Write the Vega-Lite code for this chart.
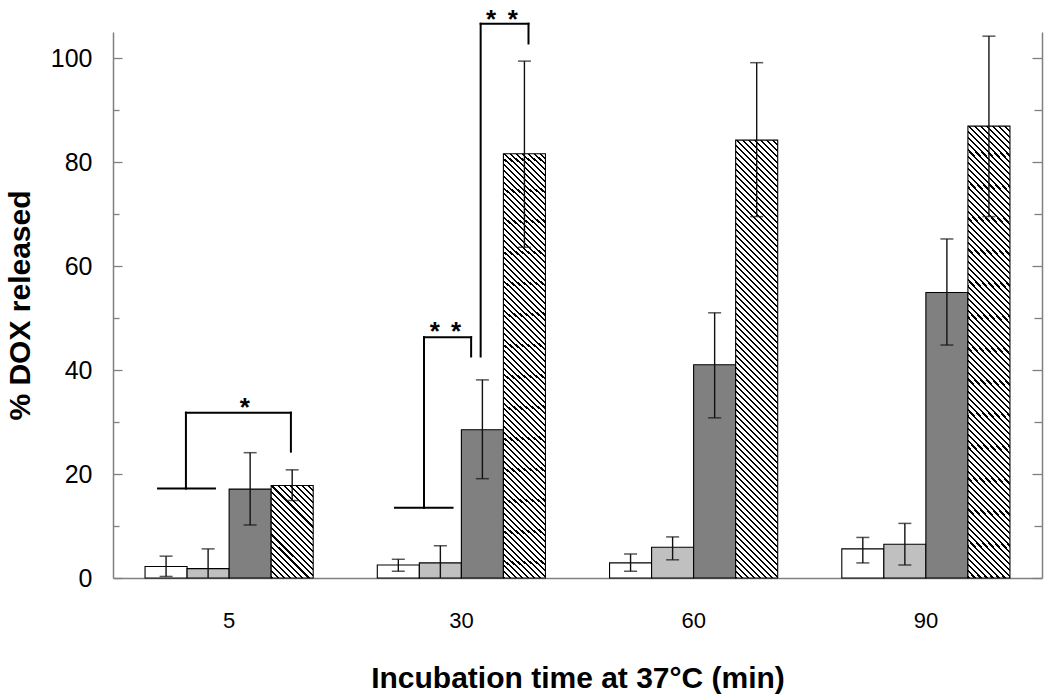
{
"$schema":"https://vega.github.io/schema/vega-lite/v6.json",
"autosize":"none",
"width":929,"height":546,
"padding":{"left":113,"top":32,"right":8,"bottom":121},
"background":"#ffffff",
"config":{"view":{"stroke":null},"font":"Liberation Sans","axis":{"labelFont":"Liberation Sans","titleFont":"Liberation Sans","labelColor":"#000","titleColor":"#000"}},
"datasets":{
"bars":[
{"time":5,"series":"A","mean":2.2,"low":0.3,"high":4.2},
{"time":5,"series":"B","mean":1.8,"low":-2.0,"high":5.6},
{"time":5,"series":"C","mean":17.1,"low":10.2,"high":24.1},
{"time":5,"series":"D","mean":17.8,"low":14.9,"high":20.8},
{"time":30,"series":"A","mean":2.5,"low":1.3,"high":3.6},
{"time":30,"series":"B","mean":2.9,"low":-0.4,"high":6.2},
{"time":30,"series":"C","mean":28.5,"low":19.1,"high":38.1},
{"time":30,"series":"D","mean":81.6,"low":63.6,"high":99.4},
{"time":60,"series":"A","mean":2.9,"low":1.3,"high":4.6},
{"time":60,"series":"B","mean":5.9,"low":3.5,"high":7.9},
{"time":60,"series":"C","mean":41.0,"low":30.8,"high":51.0},
{"time":60,"series":"D","mean":84.2,"low":69.5,"high":99.1},
{"time":90,"series":"A","mean":5.6,"low":2.9,"high":7.8},
{"time":90,"series":"B","mean":6.5,"low":2.5,"high":10.5},
{"time":90,"series":"C","mean":54.9,"low":44.8,"high":65.2},
{"time":90,"series":"D","mean":86.9,"low":69.5,"high":104.2}
],
"brackets":[
{"x0":0.194,"x1":0.439,"y0":17.2,"y1":17.2},
{"x0":0.314,"x1":0.314,"y0":17.2,"y1":31.8},
{"x0":0.314,"x1":0.766,"y0":31.8,"y1":31.8},
{"x0":0.766,"x1":0.766,"y0":31.8,"y1":24.3},
{"x0":1.214,"x1":1.462,"y0":13.5,"y1":13.5},
{"x0":1.339,"x1":1.339,"y0":13.5,"y1":46.3},
{"x0":1.339,"x1":1.542,"y0":46.3,"y1":46.3},
{"x0":1.542,"x1":1.542,"y0":46.3,"y1":42.6},
{"x0":1.583,"x1":1.583,"y0":42.6,"y1":106.6},
{"x0":1.583,"x1":1.789,"y0":106.6,"y1":106.6},
{"x0":1.789,"x1":1.789,"y0":106.6,"y1":102.8}
],
"stars":[
{"x":0.568,"y":31.2},
{"x":1.386,"y":45.8},
{"x":1.477,"y":45.8},
{"x":1.628,"y":105.8},
{"x":1.721,"y":105.8}
]
},
"resolve":{"scale":{"x":"independent"},"axis":{"y":"independent"}},
"layer":[
{
"data":{"name":"bars"},
"encoding":{
"x":{"field":"time","type":"ordinal","scale":{"paddingInner":0.276,"paddingOuter":0.138},"axis":{"ticks":false,"domainColor":"#808080","domainWidth":1.5,"labelFontSize":22,"labelPadding":49,"labelBaseline":"alphabetic","labelAngle":0,"title":"Incubation time at 37°C (min)","titleFontSize":30,"titleFontWeight":"bold","titleY":109,"titleBaseline":"alphabetic"}},
"xOffset":{"field":"series","type":"nominal","scale":{"domain":["A","B","C","D"],"paddingInner":0,"paddingOuter":0}}
},
"layer":[
{
"transform":[{"filter":"datum.series !== 'D'"}],
"mark":{"type":"bar","stroke":"#000","strokeWidth":1.1},
"encoding":{
"y":{"field":"mean","type":"quantitative","scale":{"domain":[0,105],"nice":false},"title":"% DOX released","axis":{"orient":"left","values":[0,10,20,30,40,50,60,70,80,90,100],"labelExpr":"datum.value % 20 === 0 ? datum.label : ''","tickSize":{"condition":{"test":"datum.value % 20 === 0","value":-9},"value":-6},"tickColor":"#808080","tickWidth":1.3,"domainColor":"#808080","domainWidth":1.5,"labelFontSize":25,"labelPadding":30,"grid":false,"title":"% DOX released","titleFontSize":30,"titleFontWeight":"bold","titleAngle":270,"titleX":-84,"titleY":273,"titleBaseline":"alphabetic","titleAlign":"center"}},
"color":{"field":"series","type":"nominal","scale":{"domain":["A","B","C"],"range":["#ffffff","#c0c0c0","#808080"]},"legend":null}
}
},
{
"transform":[{"filter":"datum.series === 'D' && datum.time !== 5"}],
"mark":{"type":"bar","stroke":"#000","strokeWidth":1.1,"fill":{"gradient":"linear","x1":0,"y1":1,"x2":0.1041,"y2":-0.0859,"stops":[
{"offset":0,"color":"#000"},{"offset":0.0044,"color":"#000"},{"offset":0.0044,"color":"#fff"},
{"offset":0.0125,"color":"#fff"},{"offset":0.0125,"color":"#000"},{"offset":0.0169,"color":"#000"},{"offset":0.0169,"color":"#fff"},
{"offset":0.025,"color":"#fff"},{"offset":0.025,"color":"#000"},{"offset":0.0294,"color":"#000"},{"offset":0.0294,"color":"#fff"},
{"offset":0.0375,"color":"#fff"},{"offset":0.0375,"color":"#000"},{"offset":0.0419,"color":"#000"},{"offset":0.0419,"color":"#fff"},
{"offset":0.05,"color":"#fff"},{"offset":0.05,"color":"#000"},{"offset":0.0544,"color":"#000"},{"offset":0.0544,"color":"#fff"},
{"offset":0.0625,"color":"#fff"},{"offset":0.0625,"color":"#000"},{"offset":0.0669,"color":"#000"},{"offset":0.0669,"color":"#fff"},
{"offset":0.075,"color":"#fff"},{"offset":0.075,"color":"#000"},{"offset":0.0794,"color":"#000"},{"offset":0.0794,"color":"#fff"},
{"offset":0.0875,"color":"#fff"},{"offset":0.0875,"color":"#000"},{"offset":0.0919,"color":"#000"},{"offset":0.0919,"color":"#fff"},
{"offset":0.1,"color":"#fff"},{"offset":0.1,"color":"#000"},{"offset":0.1044,"color":"#000"},{"offset":0.1044,"color":"#fff"},
{"offset":0.1125,"color":"#fff"},{"offset":0.1125,"color":"#000"},{"offset":0.1169,"color":"#000"},{"offset":0.1169,"color":"#fff"},
{"offset":0.125,"color":"#fff"},{"offset":0.125,"color":"#000"},{"offset":0.1294,"color":"#000"},{"offset":0.1294,"color":"#fff"},
{"offset":0.1375,"color":"#fff"},{"offset":0.1375,"color":"#000"},{"offset":0.1419,"color":"#000"},{"offset":0.1419,"color":"#fff"},
{"offset":0.15,"color":"#fff"},{"offset":0.15,"color":"#000"},{"offset":0.1544,"color":"#000"},{"offset":0.1544,"color":"#fff"},
{"offset":0.1625,"color":"#fff"},{"offset":0.1625,"color":"#000"},{"offset":0.1669,"color":"#000"},{"offset":0.1669,"color":"#fff"},
{"offset":0.175,"color":"#fff"},{"offset":0.175,"color":"#000"},{"offset":0.1794,"color":"#000"},{"offset":0.1794,"color":"#fff"},
{"offset":0.1875,"color":"#fff"},{"offset":0.1875,"color":"#000"},{"offset":0.1919,"color":"#000"},{"offset":0.1919,"color":"#fff"},
{"offset":0.2,"color":"#fff"},{"offset":0.2,"color":"#000"},{"offset":0.2044,"color":"#000"},{"offset":0.2044,"color":"#fff"},
{"offset":0.2125,"color":"#fff"},{"offset":0.2125,"color":"#000"},{"offset":0.2169,"color":"#000"},{"offset":0.2169,"color":"#fff"},
{"offset":0.225,"color":"#fff"},{"offset":0.225,"color":"#000"},{"offset":0.2294,"color":"#000"},{"offset":0.2294,"color":"#fff"},
{"offset":0.2375,"color":"#fff"},{"offset":0.2375,"color":"#000"},{"offset":0.2419,"color":"#000"},{"offset":0.2419,"color":"#fff"},
{"offset":0.25,"color":"#fff"},{"offset":0.25,"color":"#000"},{"offset":0.2544,"color":"#000"},{"offset":0.2544,"color":"#fff"},
{"offset":0.2625,"color":"#fff"},{"offset":0.2625,"color":"#000"},{"offset":0.2669,"color":"#000"},{"offset":0.2669,"color":"#fff"},
{"offset":0.275,"color":"#fff"},{"offset":0.275,"color":"#000"},{"offset":0.2794,"color":"#000"},{"offset":0.2794,"color":"#fff"},
{"offset":0.2875,"color":"#fff"},{"offset":0.2875,"color":"#000"},{"offset":0.2919,"color":"#000"},{"offset":0.2919,"color":"#fff"},
{"offset":0.3,"color":"#fff"},{"offset":0.3,"color":"#000"},{"offset":0.3044,"color":"#000"},{"offset":0.3044,"color":"#fff"},
{"offset":0.3125,"color":"#fff"},{"offset":0.3125,"color":"#000"},{"offset":0.3169,"color":"#000"},{"offset":0.3169,"color":"#fff"},
{"offset":0.325,"color":"#fff"},{"offset":0.325,"color":"#000"},{"offset":0.3294,"color":"#000"},{"offset":0.3294,"color":"#fff"},
{"offset":0.3375,"color":"#fff"},{"offset":0.3375,"color":"#000"},{"offset":0.3419,"color":"#000"},{"offset":0.3419,"color":"#fff"},
{"offset":0.35,"color":"#fff"},{"offset":0.35,"color":"#000"},{"offset":0.3544,"color":"#000"},{"offset":0.3544,"color":"#fff"},
{"offset":0.3625,"color":"#fff"},{"offset":0.3625,"color":"#000"},{"offset":0.3669,"color":"#000"},{"offset":0.3669,"color":"#fff"},
{"offset":0.375,"color":"#fff"},{"offset":0.375,"color":"#000"},{"offset":0.3794,"color":"#000"},{"offset":0.3794,"color":"#fff"},
{"offset":0.3875,"color":"#fff"},{"offset":0.3875,"color":"#000"},{"offset":0.3919,"color":"#000"},{"offset":0.3919,"color":"#fff"},
{"offset":0.4,"color":"#fff"},{"offset":0.4,"color":"#000"},{"offset":0.4044,"color":"#000"},{"offset":0.4044,"color":"#fff"},
{"offset":0.4125,"color":"#fff"},{"offset":0.4125,"color":"#000"},{"offset":0.4169,"color":"#000"},{"offset":0.4169,"color":"#fff"},
{"offset":0.425,"color":"#fff"},{"offset":0.425,"color":"#000"},{"offset":0.4294,"color":"#000"},{"offset":0.4294,"color":"#fff"},
{"offset":0.4375,"color":"#fff"},{"offset":0.4375,"color":"#000"},{"offset":0.4419,"color":"#000"},{"offset":0.4419,"color":"#fff"},
{"offset":0.45,"color":"#fff"},{"offset":0.45,"color":"#000"},{"offset":0.4544,"color":"#000"},{"offset":0.4544,"color":"#fff"},
{"offset":0.4625,"color":"#fff"},{"offset":0.4625,"color":"#000"},{"offset":0.4669,"color":"#000"},{"offset":0.4669,"color":"#fff"},
{"offset":0.475,"color":"#fff"},{"offset":0.475,"color":"#000"},{"offset":0.4794,"color":"#000"},{"offset":0.4794,"color":"#fff"},
{"offset":0.4875,"color":"#fff"},{"offset":0.4875,"color":"#000"},{"offset":0.4919,"color":"#000"},{"offset":0.4919,"color":"#fff"},
{"offset":0.5,"color":"#fff"},{"offset":0.5,"color":"#000"},{"offset":0.5044,"color":"#000"},{"offset":0.5044,"color":"#fff"},
{"offset":0.5125,"color":"#fff"},{"offset":0.5125,"color":"#000"},{"offset":0.5169,"color":"#000"},{"offset":0.5169,"color":"#fff"},
{"offset":0.525,"color":"#fff"},{"offset":0.525,"color":"#000"},{"offset":0.5294,"color":"#000"},{"offset":0.5294,"color":"#fff"},
{"offset":0.5375,"color":"#fff"},{"offset":0.5375,"color":"#000"},{"offset":0.5419,"color":"#000"},{"offset":0.5419,"color":"#fff"},
{"offset":0.55,"color":"#fff"},{"offset":0.55,"color":"#000"},{"offset":0.5544,"color":"#000"},{"offset":0.5544,"color":"#fff"},
{"offset":0.5625,"color":"#fff"},{"offset":0.5625,"color":"#000"},{"offset":0.5669,"color":"#000"},{"offset":0.5669,"color":"#fff"},
{"offset":0.575,"color":"#fff"},{"offset":0.575,"color":"#000"},{"offset":0.5794,"color":"#000"},{"offset":0.5794,"color":"#fff"},
{"offset":0.5875,"color":"#fff"},{"offset":0.5875,"color":"#000"},{"offset":0.5919,"color":"#000"},{"offset":0.5919,"color":"#fff"},
{"offset":0.6,"color":"#fff"},{"offset":0.6,"color":"#000"},{"offset":0.6044,"color":"#000"},{"offset":0.6044,"color":"#fff"},
{"offset":0.6125,"color":"#fff"},{"offset":0.6125,"color":"#000"},{"offset":0.6169,"color":"#000"},{"offset":0.6169,"color":"#fff"},
{"offset":0.625,"color":"#fff"},{"offset":0.625,"color":"#000"},{"offset":0.6294,"color":"#000"},{"offset":0.6294,"color":"#fff"},
{"offset":0.6375,"color":"#fff"},{"offset":0.6375,"color":"#000"},{"offset":0.6419,"color":"#000"},{"offset":0.6419,"color":"#fff"},
{"offset":0.65,"color":"#fff"},{"offset":0.65,"color":"#000"},{"offset":0.6544,"color":"#000"},{"offset":0.6544,"color":"#fff"},
{"offset":0.6625,"color":"#fff"},{"offset":0.6625,"color":"#000"},{"offset":0.6669,"color":"#000"},{"offset":0.6669,"color":"#fff"},
{"offset":0.675,"color":"#fff"},{"offset":0.675,"color":"#000"},{"offset":0.6794,"color":"#000"},{"offset":0.6794,"color":"#fff"},
{"offset":0.6875,"color":"#fff"},{"offset":0.6875,"color":"#000"},{"offset":0.6919,"color":"#000"},{"offset":0.6919,"color":"#fff"},
{"offset":0.7,"color":"#fff"},{"offset":0.7,"color":"#000"},{"offset":0.7044,"color":"#000"},{"offset":0.7044,"color":"#fff"},
{"offset":0.7125,"color":"#fff"},{"offset":0.7125,"color":"#000"},{"offset":0.7169,"color":"#000"},{"offset":0.7169,"color":"#fff"},
{"offset":0.725,"color":"#fff"},{"offset":0.725,"color":"#000"},{"offset":0.7294,"color":"#000"},{"offset":0.7294,"color":"#fff"},
{"offset":0.7375,"color":"#fff"},{"offset":0.7375,"color":"#000"},{"offset":0.7419,"color":"#000"},{"offset":0.7419,"color":"#fff"},
{"offset":0.75,"color":"#fff"},{"offset":0.75,"color":"#000"},{"offset":0.7544,"color":"#000"},{"offset":0.7544,"color":"#fff"},
{"offset":0.7625,"color":"#fff"},{"offset":0.7625,"color":"#000"},{"offset":0.7669,"color":"#000"},{"offset":0.7669,"color":"#fff"},
{"offset":0.775,"color":"#fff"},{"offset":0.775,"color":"#000"},{"offset":0.7794,"color":"#000"},{"offset":0.7794,"color":"#fff"},
{"offset":0.7875,"color":"#fff"},{"offset":0.7875,"color":"#000"},{"offset":0.7919,"color":"#000"},{"offset":0.7919,"color":"#fff"},
{"offset":0.8,"color":"#fff"},{"offset":0.8,"color":"#000"},{"offset":0.8044,"color":"#000"},{"offset":0.8044,"color":"#fff"},
{"offset":0.8125,"color":"#fff"},{"offset":0.8125,"color":"#000"},{"offset":0.8169,"color":"#000"},{"offset":0.8169,"color":"#fff"},
{"offset":0.825,"color":"#fff"},{"offset":0.825,"color":"#000"},{"offset":0.8294,"color":"#000"},{"offset":0.8294,"color":"#fff"},
{"offset":0.8375,"color":"#fff"},{"offset":0.8375,"color":"#000"},{"offset":0.8419,"color":"#000"},{"offset":0.8419,"color":"#fff"},
{"offset":0.85,"color":"#fff"},{"offset":0.85,"color":"#000"},{"offset":0.8544,"color":"#000"},{"offset":0.8544,"color":"#fff"},
{"offset":0.8625,"color":"#fff"},{"offset":0.8625,"color":"#000"},{"offset":0.8669,"color":"#000"},{"offset":0.8669,"color":"#fff"},
{"offset":0.875,"color":"#fff"},{"offset":0.875,"color":"#000"},{"offset":0.8794,"color":"#000"},{"offset":0.8794,"color":"#fff"},
{"offset":0.8875,"color":"#fff"},{"offset":0.8875,"color":"#000"},{"offset":0.8919,"color":"#000"},{"offset":0.8919,"color":"#fff"},
{"offset":0.9,"color":"#fff"},{"offset":0.9,"color":"#000"},{"offset":0.9044,"color":"#000"},{"offset":0.9044,"color":"#fff"},
{"offset":0.9125,"color":"#fff"},{"offset":0.9125,"color":"#000"},{"offset":0.9169,"color":"#000"},{"offset":0.9169,"color":"#fff"},
{"offset":0.925,"color":"#fff"},{"offset":0.925,"color":"#000"},{"offset":0.9294,"color":"#000"},{"offset":0.9294,"color":"#fff"},
{"offset":0.9375,"color":"#fff"},{"offset":0.9375,"color":"#000"},{"offset":0.9419,"color":"#000"},{"offset":0.9419,"color":"#fff"},
{"offset":0.95,"color":"#fff"},{"offset":0.95,"color":"#000"},{"offset":0.9544,"color":"#000"},{"offset":0.9544,"color":"#fff"},
{"offset":0.9625,"color":"#fff"},{"offset":0.9625,"color":"#000"},{"offset":0.9669,"color":"#000"},{"offset":0.9669,"color":"#fff"},
{"offset":0.975,"color":"#fff"},{"offset":0.975,"color":"#000"},{"offset":0.9794,"color":"#000"},{"offset":0.9794,"color":"#fff"},
{"offset":0.9875,"color":"#fff"},{"offset":0.9875,"color":"#000"},{"offset":0.9919,"color":"#000"},{"offset":0.9919,"color":"#fff"},
{"offset":1,"color":"#fff"}
]}},
"encoding":{"y":{"field":"mean","type":"quantitative","scale":{"domain":[0,105],"nice":false}}}
},
{
"transform":[{"filter":"datum.series === 'D' && datum.time === 5"}],
"mark":{"type":"bar","stroke":"#000","strokeWidth":1.1,"fill":{"gradient":"linear","x1":0,"y1":1,"x2":0.5468,"y2":-0.2055,"stops":[
{"offset":0,"color":"#000"},{"offset":0.0159,"color":"#000"},{"offset":0.0159,"color":"#fff"},
{"offset":0.0455,"color":"#fff"},{"offset":0.0455,"color":"#000"},{"offset":0.0614,"color":"#000"},{"offset":0.0614,"color":"#fff"},
{"offset":0.0909,"color":"#fff"},{"offset":0.0909,"color":"#000"},{"offset":0.1068,"color":"#000"},{"offset":0.1068,"color":"#fff"},
{"offset":0.1364,"color":"#fff"},{"offset":0.1364,"color":"#000"},{"offset":0.1523,"color":"#000"},{"offset":0.1523,"color":"#fff"},
{"offset":0.1818,"color":"#fff"},{"offset":0.1818,"color":"#000"},{"offset":0.1977,"color":"#000"},{"offset":0.1977,"color":"#fff"},
{"offset":0.2273,"color":"#fff"},{"offset":0.2273,"color":"#000"},{"offset":0.2432,"color":"#000"},{"offset":0.2432,"color":"#fff"},
{"offset":0.2727,"color":"#fff"},{"offset":0.2727,"color":"#000"},{"offset":0.2886,"color":"#000"},{"offset":0.2886,"color":"#fff"},
{"offset":0.3182,"color":"#fff"},{"offset":0.3182,"color":"#000"},{"offset":0.3341,"color":"#000"},{"offset":0.3341,"color":"#fff"},
{"offset":0.3636,"color":"#fff"},{"offset":0.3636,"color":"#000"},{"offset":0.3795,"color":"#000"},{"offset":0.3795,"color":"#fff"},
{"offset":0.4091,"color":"#fff"},{"offset":0.4091,"color":"#000"},{"offset":0.425,"color":"#000"},{"offset":0.425,"color":"#fff"},
{"offset":0.4545,"color":"#fff"},{"offset":0.4545,"color":"#000"},{"offset":0.4704,"color":"#000"},{"offset":0.4704,"color":"#fff"},
{"offset":0.5,"color":"#fff"},{"offset":0.5,"color":"#000"},{"offset":0.5159,"color":"#000"},{"offset":0.5159,"color":"#fff"},
{"offset":0.5455,"color":"#fff"},{"offset":0.5455,"color":"#000"},{"offset":0.5614,"color":"#000"},{"offset":0.5614,"color":"#fff"},
{"offset":0.5909,"color":"#fff"},{"offset":0.5909,"color":"#000"},{"offset":0.6068,"color":"#000"},{"offset":0.6068,"color":"#fff"},
{"offset":0.6364,"color":"#fff"},{"offset":0.6364,"color":"#000"},{"offset":0.6523,"color":"#000"},{"offset":0.6523,"color":"#fff"},
{"offset":0.6818,"color":"#fff"},{"offset":0.6818,"color":"#000"},{"offset":0.6977,"color":"#000"},{"offset":0.6977,"color":"#fff"},
{"offset":0.7273,"color":"#fff"},{"offset":0.7273,"color":"#000"},{"offset":0.7432,"color":"#000"},{"offset":0.7432,"color":"#fff"},
{"offset":0.7727,"color":"#fff"},{"offset":0.7727,"color":"#000"},{"offset":0.7886,"color":"#000"},{"offset":0.7886,"color":"#fff"},
{"offset":0.8182,"color":"#fff"},{"offset":0.8182,"color":"#000"},{"offset":0.8341,"color":"#000"},{"offset":0.8341,"color":"#fff"},
{"offset":0.8636,"color":"#fff"},{"offset":0.8636,"color":"#000"},{"offset":0.8795,"color":"#000"},{"offset":0.8795,"color":"#fff"},
{"offset":0.9091,"color":"#fff"},{"offset":0.9091,"color":"#000"},{"offset":0.925,"color":"#000"},{"offset":0.925,"color":"#fff"},
{"offset":0.9545,"color":"#fff"},{"offset":0.9545,"color":"#000"},{"offset":0.9704,"color":"#000"},{"offset":0.9704,"color":"#fff"},
{"offset":1,"color":"#fff"}
]}},
"encoding":{"y":{"field":"mean","type":"quantitative","scale":{"domain":[0,105],"nice":false}}}
},
{
"mark":{"type":"rule","clip":true,"color":"#111","strokeWidth":1.4},
"encoding":{"y":{"field":"low","type":"quantitative","scale":{"domain":[0,105],"nice":false}},"y2":{"field":"high"}}
},
{
"mark":{"type":"tick","clip":true,"orient":"horizontal","size":13,"thickness":1.5,"color":"#111"},
"encoding":{"y":{"field":"low","type":"quantitative","scale":{"domain":[0,105],"nice":false}}}
},
{
"mark":{"type":"tick","clip":true,"orient":"horizontal","size":13,"thickness":1.5,"color":"#111"},
"encoding":{"y":{"field":"high","type":"quantitative","scale":{"domain":[0,105],"nice":false}}}
}
]
},
{
"layer":[
{
"data":{"name":"brackets"},
"mark":{"type":"rule","color":"#000","strokeWidth":2,"strokeCap":"square"},
"encoding":{
"x":{"field":"x0","type":"quantitative","scale":{"domain":[0,4],"nice":false,"zero":false},"axis":null},
"x2":{"field":"x1"},
"y":{"field":"y0","type":"quantitative","scale":{"domain":[0,105],"nice":false},"title":null,"axis":{"orient":"right","values":[0,10,20,30,40,50,60,70,80,90,100],"labels":false,"title":null,"grid":false,"tickSize":{"condition":{"test":"datum.value % 20 === 0","value":-10},"value":-8},"tickColor":"#808080","tickWidth":1.3,"domainColor":"#808080","domainWidth":1.5}},
"y2":{"field":"y1"}
}
},
{
"data":{"name":"stars"},
"mark":{"type":"text","text":"*","fontSize":26,"fontWeight":"bold","font":"Liberation Sans","color":"#000","baseline":"alphabetic","align":"center"},
"encoding":{
"x":{"field":"x","type":"quantitative","scale":{"domain":[0,4],"nice":false,"zero":false},"axis":null},
"y":{"field":"y","type":"quantitative","scale":{"domain":[0,105],"nice":false},"title":null}
}
}
]
}
]
}
